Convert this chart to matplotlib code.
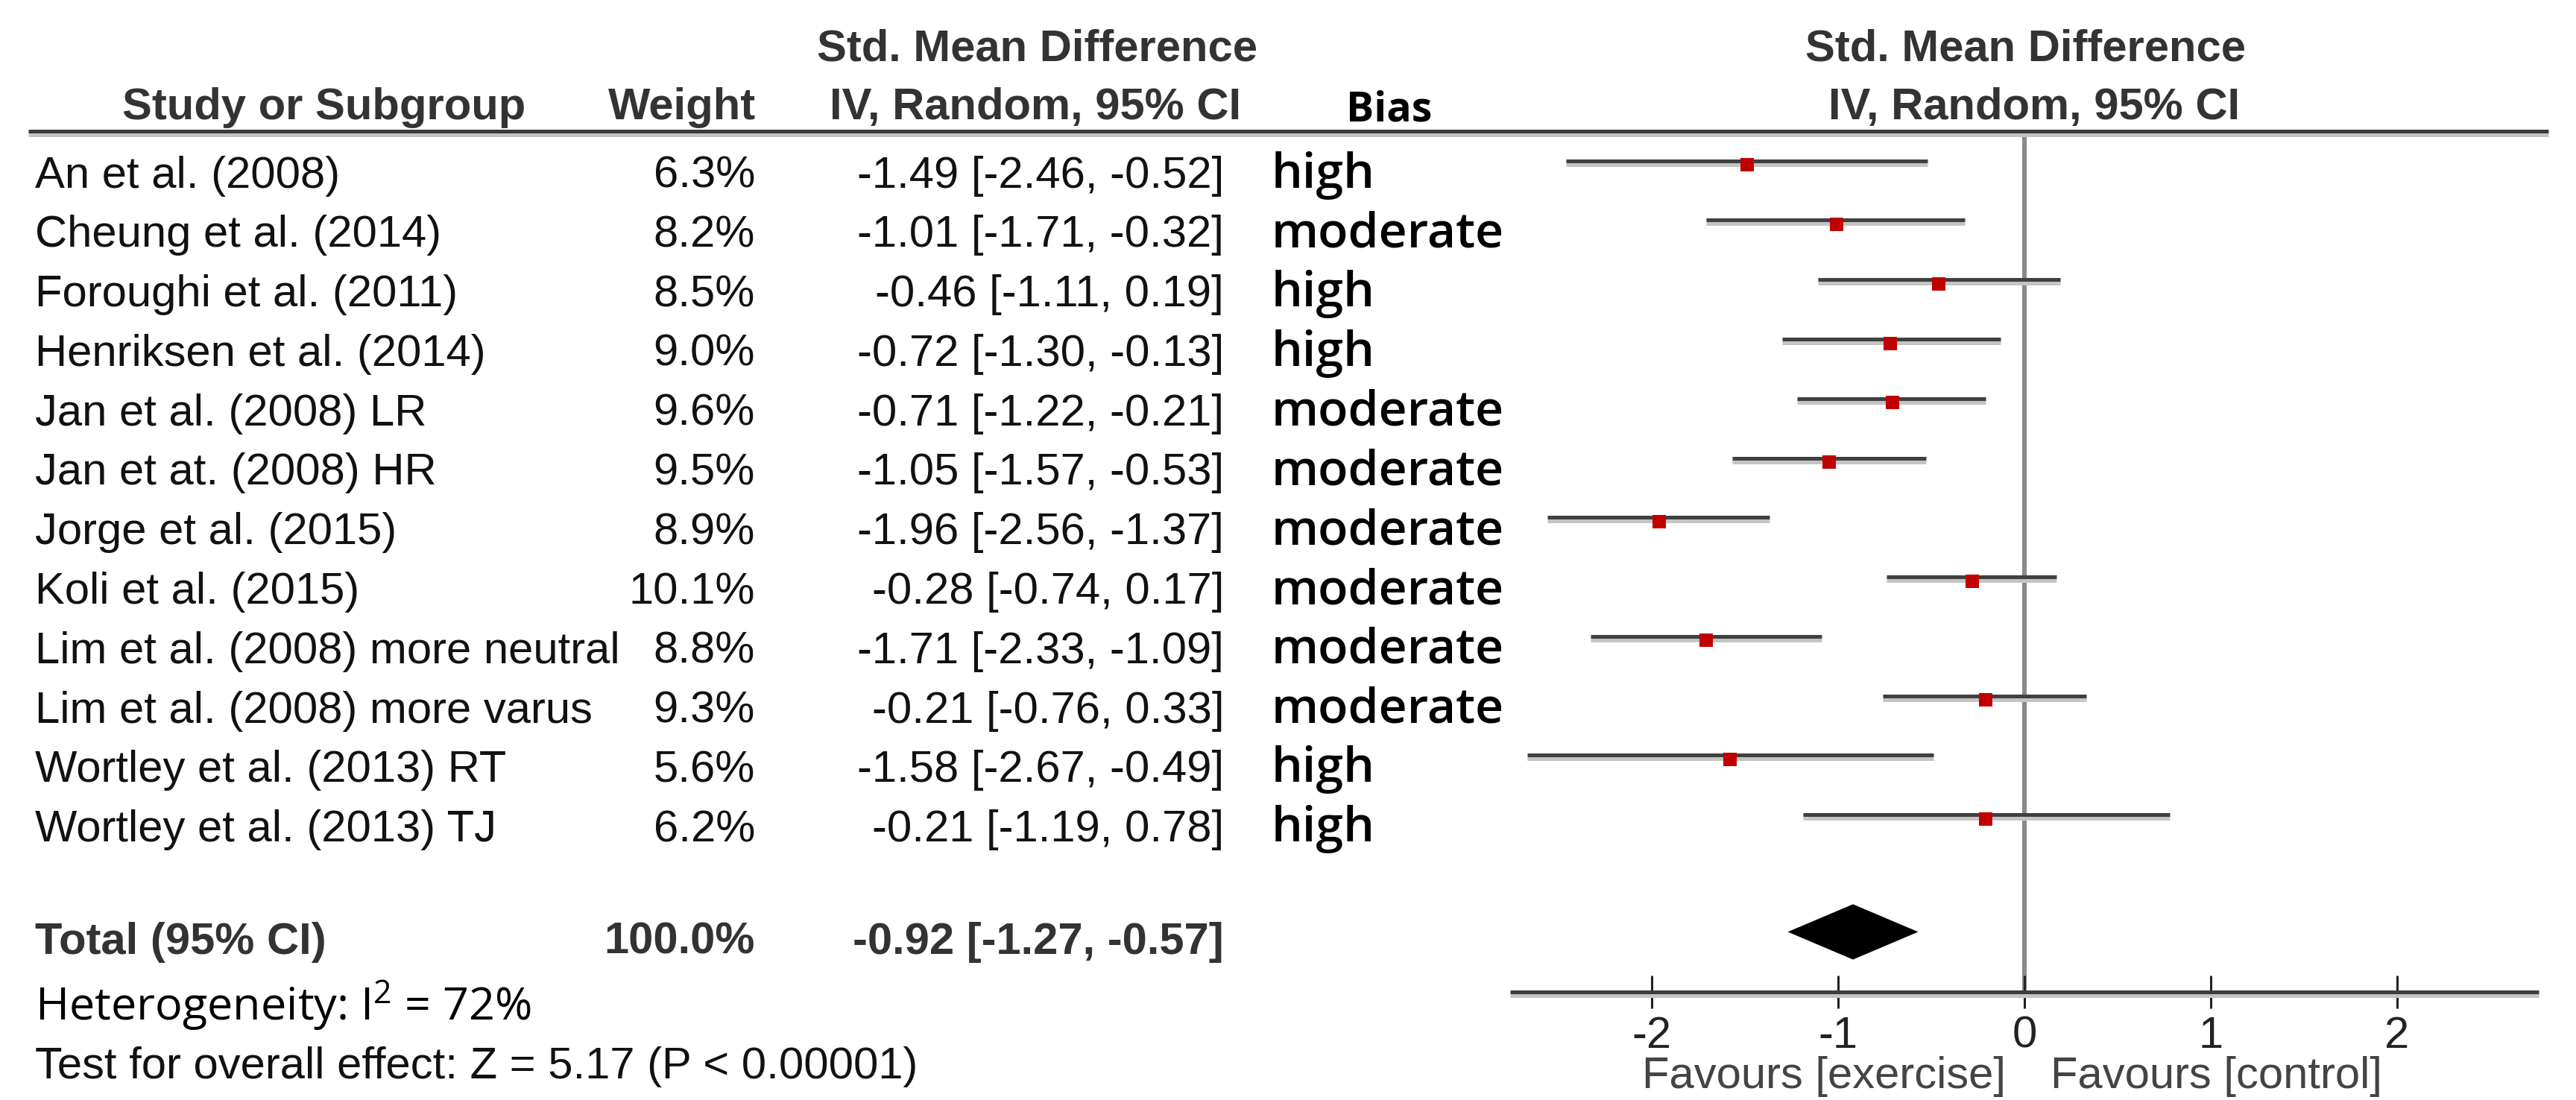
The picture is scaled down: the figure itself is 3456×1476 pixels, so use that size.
import matplotlib
matplotlib.use("Agg")
import matplotlib.pyplot as plt
import matplotlib.patheffects as pe
from matplotlib.transforms import blended_transform_factory

plt.rcParams['axes.unicode_minus'] = False
plt.rcParams['mathtext.fontset'] = 'custom'
plt.rcParams['mathtext.rm'] = 'Open Sans'
plt.rcParams['mathtext.it'] = 'Open Sans'

# ---------------- data ----------------
studies = ["An et al. (2008)", "Cheung et al. (2014)", "Foroughi et al. (2011)",
           "Henriksen et al. (2014)", "Jan et al. (2008) LR", "Jan et at. (2008) HR",
           "Jorge et al. (2015)", "Koli et al. (2015)", "Lim et al. (2008) more neutral",
           "Lim et al. (2008) more varus", "Wortley et al. (2013) RT", "Wortley et al. (2013) TJ"]
weights = [6.3, 8.2, 8.5, 9.0, 9.6, 9.5, 8.9, 10.1, 8.8, 9.3, 5.6, 6.2]
smd = [-1.49, -1.01, -0.46, -0.72, -0.71, -1.05, -1.96, -0.28, -1.71, -0.21, -1.58, -0.21]
ci_low = [-2.46, -1.71, -1.11, -1.30, -1.22, -1.57, -2.56, -0.74, -2.33, -0.76, -2.67, -1.19]
ci_high = [-0.52, -0.32, 0.19, -0.13, -0.21, -0.53, -1.37, 0.17, -1.09, 0.33, -0.49, 0.78]
bias = ["high", "moderate", "high", "high", "moderate", "moderate", "moderate",
        "moderate", "moderate", "moderate", "high", "high"]
total_weight = 100.0
total_smd, total_low, total_high = -0.92, -1.27, -0.57
heterogeneity_i2 = 72
z_value = 5.17
xticks = [-2, -1, 0, 1, 2]

# ---------------- figure ----------------
W, H = 3456, 1476
DPI = 200
fig = plt.figure(figsize=(W / DPI, H / DPI), dpi=DPI)
fig.patch.set_facecolor('white')

ax_left = 2026 / W
ax_right = 3406 / W
ax_top = 1 - 175.5 / H
ax_bot = 1 - 1331 / H
ax = fig.add_axes([ax_left, ax_bot, ax_right - ax_left, ax_top - ax_bot])
ax.set_xlim(-2.76, 2.76)
ax.set_ylim(13.80, -0.683)
for s in ax.spines.values():
    s.set_visible(False)
ax.set_yticks([])
ax.set_xticks(xticks)
ax.set_xticklabels([str(t) for t in xticks], fontsize=21.5, color='#222222',
                   family='Liberation Sans')
ax.tick_params(axis='x', direction='inout', length=15.8, width=1.1,
               color='#222222', pad=3.6)

fx = lambda px: px / W
tr = blended_transform_factory(fig.transFigure, ax.transData)

FS = 21.5
MAIN = 'Liberation Sans'
ALT = 'Open Sans'
base_off = 0.27

shadow = [pe.SimpleLineShadow(offset=(0, -1.8), shadow_color='#c4c4c4', alpha=1.0),
          pe.Normal()]

# header line
ax.plot([fx(38), fx(3419)], [-0.683, -0.683], transform=tr, color='#3c3c3c',
        lw=1.8, clip_on=False, solid_capstyle='butt', path_effects=shadow, zorder=5)
# axis line
ax.plot([-2.76, 2.76], [13.80, 13.80], color='#3c3c3c', lw=1.8, clip_on=False,
        solid_capstyle='butt', path_effects=shadow, zorder=5)
# zero line
ax.axvline(0, color='#8a8a8a', lw=2.2, zorder=1)

# headers
hcol = '#333333'
ax.text(fx(1392), -1.855, "Std. Mean Difference", transform=tr, ha='center',
        va='baseline', fontsize=FS, fontweight='bold', color=hcol, family=MAIN)
ax.text(fx(1389), -0.877, "IV, Random, 95% CI", transform=tr, ha='center',
        va='baseline', fontsize=FS, fontweight='bold', color=hcol, family=MAIN)
ax.text(fx(435), -0.877, "Study or Subgroup", transform=tr, ha='center',
        va='baseline', fontsize=FS, fontweight='bold', color=hcol, family=MAIN)
ax.text(fx(1014), -0.877, "Weight", transform=tr, ha='right',
        va='baseline', fontsize=FS, fontweight='bold', color=hcol, family=MAIN)
ax.text(fx(1806), -0.84, "Bias", transform=tr, ha='left',
        va='baseline', fontsize=20, fontweight='bold', color='black', family=ALT)
ax.text(fx(2718), -1.855, "Std. Mean Difference", transform=tr, ha='center',
        va='baseline', fontsize=FS, fontweight='bold', color=hcol, family=MAIN)
ax.text(fx(2729), -0.877, "IV, Random, 95% CI", transform=tr, ha='center',
        va='baseline', fontsize=FS, fontweight='bold', color=hcol, family=MAIN)

# study rows
for i, (name, w, m, lo, hi, b) in enumerate(zip(studies, weights, smd, ci_low, ci_high, bias)):
    yb = i + base_off
    ax.text(fx(47), yb, name, transform=tr, ha='left', va='baseline',
            fontsize=FS, color='#111111', family=MAIN)
    ax.text(fx(1013), yb, f"{w:.1f}%", transform=tr, ha='right', va='baseline',
            fontsize=FS, color='#111111', family=MAIN)
    ax.text(fx(1642), yb, f"{m:.2f} [{lo:.2f}, {hi:.2f}]", transform=tr, ha='right',
            va='baseline', fontsize=FS, color='#111111', family=MAIN)
    ax.text(fx(1706), yb, b, transform=tr, ha='left', va='baseline',
            fontsize=23.8, fontweight='semibold', color='black', family=ALT)
    ax.plot([lo, hi], [i - 0.18, i - 0.18], color='#404040', lw=1.8,
            solid_capstyle='butt', path_effects=shadow, zorder=3)
    ax.plot([m], [i - 0.11], marker='s', markersize=6.3, color='#c00000',
            markeredgewidth=0, zorder=4)

# total row
ty = 12.85
ax.text(fx(47), ty + 0.31, "Total (95% CI)", transform=tr, ha='left', va='baseline',
        fontsize=FS, fontweight='bold', color=hcol, family=MAIN)
ax.text(fx(1013), ty + 0.31, f"{total_weight:.1f}%", transform=tr, ha='right',
        va='baseline', fontsize=FS, fontweight='bold', color=hcol, family=MAIN)
ax.text(fx(1642), ty + 0.31, f"{total_smd:.2f} [{total_low:.2f}, {total_high:.2f}]",
        transform=tr, ha='right', va='baseline', fontsize=FS, fontweight='bold',
        color=hcol, family=MAIN)
dh = 0.465
ax.fill([total_low, total_smd, total_high, total_smd],
        [ty - 0.06, ty - 0.06 - dh, ty - 0.06, ty - 0.06 + dh], color='black', lw=0, zorder=4)

# footer texts
ax.text(fx(47), 14.28, r"Heterogeneity: I$^{2}$ = " + f"{heterogeneity_i2}%", transform=tr,
        ha='left', va='baseline', fontsize=22, color='black', family=ALT)
ax.text(fx(47), 15.25, f"Test for overall effect: Z = {z_value:.2f} (P < 0.00001)",
        transform=tr, ha='left', va='baseline', fontsize=FS, color='#111111', family=MAIN)
ax.text(-0.10, 15.42, "Favours [exercise]", ha='right', va='baseline', fontsize=FS,
        color='#444444', family=MAIN, clip_on=False)
ax.text(0.14, 15.42, "Favours [control]", ha='left', va='baseline', fontsize=FS,
        color='#444444', family=MAIN, clip_on=False)

fig.savefig("out.png", dpi=DPI, facecolor='white')
